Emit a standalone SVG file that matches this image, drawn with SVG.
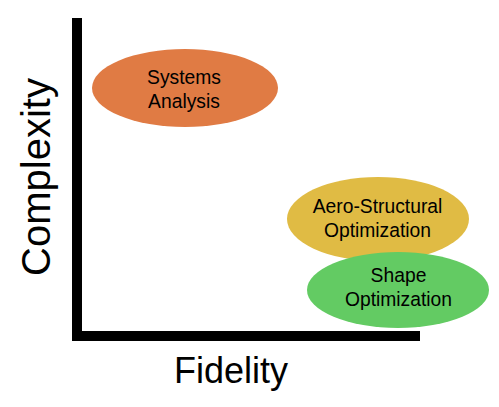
<svg xmlns="http://www.w3.org/2000/svg" width="499" height="407" viewBox="0 0 499 407">
<style>
.lbl{font-family:"Liberation Sans",Arial,sans-serif;font-size:19.3px;fill:#000;text-anchor:middle}
.ax{font-family:"Liberation Sans",Arial,sans-serif;fill:#000;text-anchor:middle}
</style>
<rect width="499" height="407" fill="#fff"/>
<g id="axes">
<rect x="72" y="18" width="10" height="323" fill="#000"/>
<rect x="72" y="331" width="348" height="10" fill="#000"/>
<text class="ax" font-size="36" x="231" y="383">Fidelity</text>
<text class="ax" font-size="40" transform="translate(50,177) rotate(-90)">Complexity</text>
</g>
<g id="systems">
<ellipse cx="185" cy="88" rx="93" ry="39" fill="#E07B44"/>
<text class="lbl" x="184" y="84">Systems</text>
<text class="lbl" x="184" y="108">Analysis</text>
</g>
<g id="aero">
<ellipse cx="378" cy="219" rx="91" ry="42" fill="#E0BB44"/>
<text class="lbl" x="377.5" y="212.7">Aero-Structural</text>
<text class="lbl" x="377.5" y="236.7">Optimization</text>
</g>
<g id="shape">
<ellipse cx="398" cy="290" rx="91" ry="38" fill="#63CB63"/>
<text class="lbl" x="398.5" y="281.7">Shape</text>
<text class="lbl" x="398.5" y="305.5">Optimization</text>
</g>
<g id="connectors"/>
</svg>
